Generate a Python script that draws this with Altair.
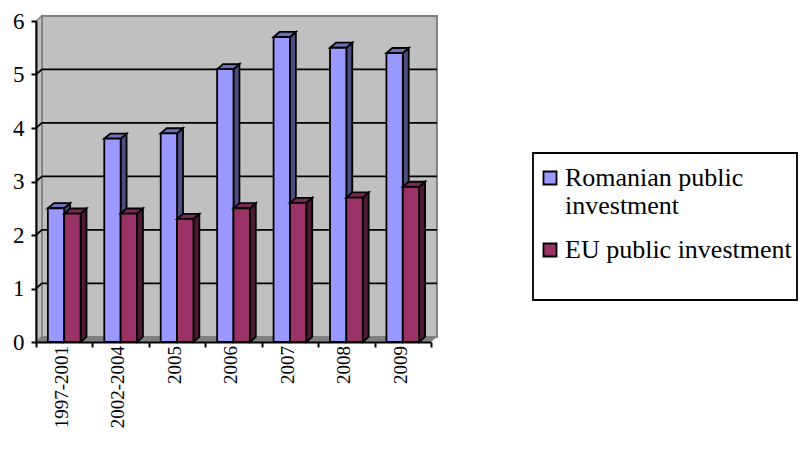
import altair as alt
import pandas as pd

categories = ["1997-2001", "2002-2004", "2005", "2006", "2007", "2008", "2009"]
romanian = [2.5, 3.8, 3.9, 5.1, 5.7, 5.5, 5.4]
eu = [2.4, 2.4, 2.3, 2.5, 2.6, 2.7, 2.9]
series_names = ["Romanian public investment", "EU public investment"]
y_ticks = [0, 1, 2, 3, 4, 5, 6]
x_ticks = [0, 1, 2, 3, 4, 5, 6, 7]

FONT = "Liberation Serif"
DX, DY = 0.105, 0.095     # 3D depth in data units
BAR = 0.29
X = alt.X(
    "x:Q",
    scale=alt.Scale(domain=[0, 7], nice=False, zero=False),
    axis=alt.Axis(values=x_ticks, labels=False, title=None, grid=False, zindex=1,
                  domainColor="black", domainWidth=2, tickColor="black", tickWidth=2, tickSize=5),
)
Y = alt.Y(
    "y:Q",
    scale=alt.Scale(domain=[0, 6], nice=False),
    axis=alt.Axis(values=y_ticks, title=None, grid=False, format="d", zindex=1,
                  domainColor="black", domainWidth=2, tickColor="black", tickWidth=2, tickSize=5,
                  labelFont=FONT, labelFontSize=23, labelColor="black", labelPadding=7),
)


def side_df(vals, off):
    rows = []
    for i, v in enumerate(vals):
        xr = i + off + BAR
        rows += [dict(b=i, x=xr, y=v, y2=0), dict(b=i, x=xr + DX, y=v + DY, y2=DY)]
    return pd.DataFrame(rows)


def top_df(vals, off):
    rows = []
    for i, v in enumerate(vals):
        a, c = i + off, i + off + BAR
        rows += [dict(b=i, x=a, x2=c, y=v), dict(b=i, x=a + DX, x2=c + DX, y=v + DY)]
    return pd.DataFrame(rows)


def bar_layers(vals, name, off, side_col, top_col):
    side = alt.Chart(side_df(vals, off)).mark_area(
        fill=side_col, stroke="black", strokeWidth=1.8
    ).encode(x=X, y=Y, y2="y2:Q", detail="b:N")
    top = alt.Chart(top_df(vals, off)).mark_area(
        orient="horizontal", fill=top_col, stroke="black", strokeWidth=1.8
    ).encode(y=Y, x=X, x2="x2:Q", detail="b:N")
    front_df = pd.DataFrame(
        [dict(x=i + off, x2=i + off + BAR, y=v, y2=0, series=name) for i, v in enumerate(vals)]
    )
    front = alt.Chart(front_df).mark_rect(stroke="black", strokeWidth=1.8).encode(
        x=X, x2="x2:Q", y=Y, y2="y2:Q",
        color=alt.Color(
            "series:N",
            scale=alt.Scale(domain=series_names, range=["#9999FF", "#993366"]),
            legend=alt.Legend(
                title=None, orient="none", legendX=501, legendY=144,
                labelFont=FONT, labelFontSize=26, labelColor="black",
                labelLimit=300, labelOffset=2,
                labelExpr="datum.label == 'Romanian public investment' ? ['Romanian public','investment'] : datum.label",
                labelBaseline="middle", symbolType="square", symbolSize=170,
                symbolStrokeColor="black", symbolStrokeWidth=1.8, symbolOpacity=1,
                rowPadding=18, values=series_names,
            ),
        ),
    )
    return [side, top, front]


wall = alt.Chart(pd.DataFrame([dict(x=DX, x2=7 + DX, y=DY, y2=6 + DY)])).mark_rect(
    fill="#C0C0C0", stroke="#808080", strokeWidth=2
).encode(x=X, x2="x2:Q", y=Y, y2="y2:Q")

left_wall = alt.Chart(pd.DataFrame([dict(x=0, y=0, y2=6), dict(x=DX, y=DY, y2=6 + DY)])).mark_area(
    fill="#C0C0C0", stroke="#808080", strokeWidth=1.5
).encode(x=X, y=Y, y2="y2:Q")

floor = alt.Chart(pd.DataFrame([dict(x=0, x2=7, y=0), dict(x=DX, x2=7 + DX, y=DY)])).mark_area(
    orient="horizontal", fill="#808080"
).encode(y=Y, x=X, x2="x2:Q")

grid_rows = []
for t in y_ticks[1:-1]:
    grid_rows += [dict(t=t, x=0, y=t, o=0), dict(t=t, x=DX, y=t + DY, o=1), dict(t=t, x=7 + DX, y=t + DY, o=2)]
grid = alt.Chart(pd.DataFrame(grid_rows)).mark_line(color="black", strokeWidth=1.8).encode(
    x=X, y=Y, detail="t:N", order="o:Q"
)

cat_df = pd.DataFrame({"x": [i + 0.46 for i in range(7)], "label": categories})
cat_labels = alt.Chart(cat_df).mark_text(
    angle=270, align="right", baseline="middle", font=FONT, fontSize=19, color="black"
).encode(x=X, y=alt.value(325), text="label:N")

box = alt.Chart(pd.DataFrame({"a": [0]})).mark_rect(fill="white", stroke="black", strokeWidth=1.8).encode(
    x=alt.value(497), x2=alt.value(761), y=alt.value(132), y2=alt.value(279)
)

layers = [box, wall, left_wall, floor, grid]
layers += bar_layers(romanian, series_names[0], 0.21, "#4D4D80", "#6F6FB8")
layers += bar_layers(eu, series_names[1], 0.50, "#4D1A33", "#7A2952")
layers += [cat_labels]

chart = alt.layer(*layers).properties(
    width=395, height=321,
    padding={"left": 28, "top": 13, "right": 367, "bottom": 100},
    autosize=alt.AutoSizeParams(type="none"),
).configure_view(stroke=None)

chart.save("out.html", embed_options={"renderer": "svg", "actions": False})
